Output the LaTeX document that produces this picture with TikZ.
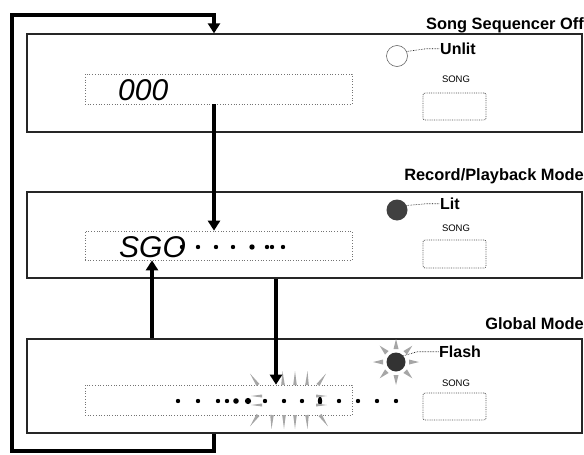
\documentclass[tikz,border=0pt]{standalone}
\usepackage{fontspec}
\setsansfont{Liberation Sans}
\newfontfamily\lcdfont{Liberation Sans}
\usetikzlibrary{arrows.meta}

\tikzset{
  panel/.style={draw=black!85, line width=1.3pt, minimum width=555pt, inner sep=0pt},
  lcd/.style={draw=black!55, dotted, line width=0.7pt, minimum width=267pt, inner sep=0pt},
  songbtn/.style={draw=black!70, densely dotted, line width=0.8pt, rounded corners=2pt, minimum width=63pt, inner sep=0pt},
  mode/.style={font=\sffamily\bfseries\fontsize{16.4}{18}\selectfont, anchor=base east, inner sep=0pt},
  state/.style={font=\sffamily\bfseries\fontsize{16}{18}\selectfont, anchor=base west, inner sep=0pt},
  keylbl/.style={font=\sffamily\fontsize{9.5}{10}\selectfont, anchor=base, inner sep=0pt},
  digits/.style={font=\lcdfont\itshape\fontsize{30}{30}\selectfont, anchor=base west, inner sep=0pt},
  led/.style={circle, inner sep=0pt, minimum size=21pt},
  flow/.style={line width=4.5pt, -{Triangle[width=12pt,length=10pt]}},
  leader/.style={densely dotted, line width=0.6pt},
  spark/.style={fill=black!35},
}

\begin{document}
\begin{tikzpicture}[x=1pt, y=-1pt]
\useasboundingbox (0,0) rectangle (584,455);

% mode titles
\node[mode] (off) at (584,29) {Song Sequencer Off};
\node[mode] (rec) at (584,180) {Record/Playback Mode};
\node[mode] (glob) at (584,329) {Global Mode};

% panels
\node[panel, minimum height=98pt] (box1) at (304.5,83) {};
\node[panel, minimum height=86pt] (box2) at (304.5,235) {};
\node[panel, minimum height=94pt] (box3) at (304.5,386) {};

% displays
\node[lcd, minimum height=30pt] (disp1) at (218.5,89) {};
\node[lcd, minimum height=29pt] (disp2) at (218.5,245.5) {};
\node[lcd, minimum height=30pt] (disp3) at (218.5,400) {};
\node[digits] (num1) at (118,100) {000};
\node[digits] (num2) at (119,257) {SGO};

% display dots
\foreach \x in {182,198,216,233,267,272,283} \fill (\x,247) circle (2.2);
\fill (252,247) circle (2.7);
\foreach \x in {178,198,218,227,265,284,302,339,358,377,396} \fill (\x,401) circle (2.2);
\fill (236,401) circle (2.8);
\fill (248,401) circle (3.1);
\fill (320,401) ellipse (2.2 and 4.5);

% song buttons
\node[keylbl] (song1) at (456,82) {SONG};
\node[keylbl] (song2) at (456,231) {SONG};
\node[keylbl] (song3) at (456,386) {SONG};
\node[songbtn, minimum height=27pt] (btn1) at (454.5,106.5) {};
\node[songbtn, minimum height=28pt] (btn2) at (454.5,254) {};
\node[songbtn, minimum height=27pt] (btn3) at (454.5,406.5) {};

% leds
\node[led, draw=black!60, line width=0.6pt] (led1) at (397,56) {};
\node[led, fill=black!75] (led2) at (397,210) {};
\node[led, fill=black!80, minimum size=19pt] (led3) at (396,362) {};
\foreach \a in {0,45,...,315}
  \fill[spark, shift={(led3.center)}, rotate=\a] (13,-2.5) -- (23,0) -- (13,2.5) -- cycle;

\node[state] (unlit) at (440,54.5) {Unlit};
\node[state] (lit) at (440,209.5) {Lit};
\node[state] (flash) at (439,357.5) {Flash};
\draw[leader] (led1.25) -- ([xshift=-14pt]unlit.west) -- (unlit.west);
\draw[leader] (led2.25) -- ([xshift=-14pt]lit.west) -- (lit.west);
\draw[leader] (led3.40) -- ([xshift=-22pt]flash.west) -- (flash.west);

% flashing part of display 3
\foreach \x/\a in {258/125,283/92,295/90,307/88,318/55}
  \fill[spark, shift={(\x,385)}, rotate=\a] (0,-1.8) -- (14,0) -- (0,1.8) -- cycle;
\foreach \x/\a in {258/-125,272/-92,284/-90,295/-90,307/-88,320/-55}
  \fill[spark, shift={(\x,415)}, rotate=\a] (0,-1.8) -- (14,0) -- (0,1.8) -- cycle;
\foreach \y in {396,405} {
  \fill[spark] (262,\y-1.5) -- (251,\y) -- (262,\y+1.5) -- cycle;
  \fill[spark] (316,\y-1.5) -- (327,\y) -- (316,\y+1.5) -- cycle;
}

% mode changes
\coordinate (mid) at (214,0);
\coordinate (up) at (152,0);
\coordinate (down) at (276,0);
\draw[flow] (disp1.south -| mid) -- (disp2.north -| mid);
\draw[flow] (box3.north -| up) -- (disp2.south -| up);
\draw[flow] (box2.south -| down) -- (disp3.north -| down);
\draw[flow] (box3.south -| mid) -- (214,451) -| (12,15) -| (box1.north -| mid);

\end{tikzpicture}
\end{document}
